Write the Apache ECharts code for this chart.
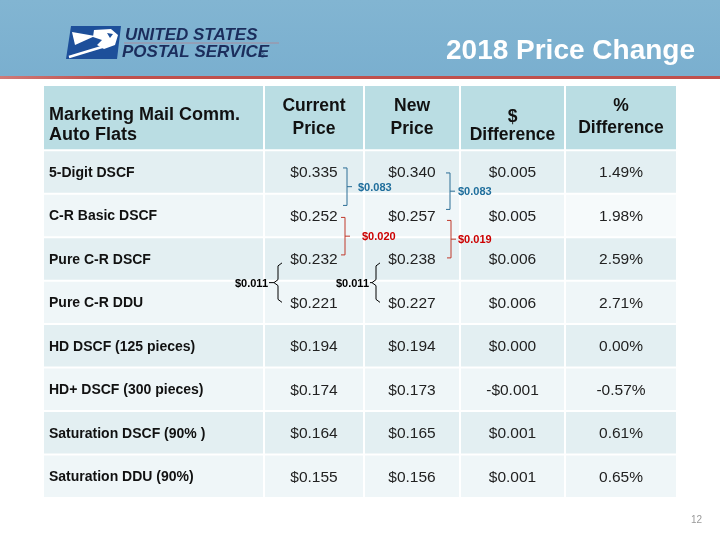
<!DOCTYPE html>
<html><head><meta charset="utf-8">
<script src="https://cdn.jsdelivr.net/npm/echarts@6/dist/echarts.min.js"></script>
<style>html,body{margin:0;padding:0;background:#fff}#c{width:720px;height:540px}</style>
</head><body><div id="c"></div>
<script>
// ---------- data ----------
const rowLabels = ['5-Digit DSCF', 'C-R Basic DSCF', 'Pure C-R DSCF', 'Pure C-R DDU',
  'HD DSCF (125 pieces)', 'HD+ DSCF (300 pieces)', 'Saturation DSCF (90% )', 'Saturation DDU (90%)'];
const currentPrice = [0.335, 0.252, 0.232, 0.221, 0.194, 0.174, 0.164, 0.155];
const newPrice = [0.340, 0.257, 0.238, 0.227, 0.194, 0.173, 0.165, 0.156];
const dollarDiff = [0.005, 0.005, 0.006, 0.006, 0.000, -0.001, 0.001, 0.001];
const pctDiff = [1.49, 1.98, 2.59, 2.71, 0.00, -0.57, 0.61, 0.65];
const headerLines = [['Marketing Mail Comm.', 'Auto Flats'], ['Current', 'Price'], ['New', 'Price'],
  ['$', 'Difference'], ['%', 'Difference']];
const bracketCol = [1, 2, 1, 2, 1, 2];
const bracketFrom = [0, 0, 1, 1, 2, 2];
const bracketValue = [0.083, 0.083, 0.020, 0.019, 0.011, 0.011];
const bracketKind = ['blue', 'blue', 'red', 'red', 'brace', 'brace'];
const titleText = '2018 Price Change';
const pageNumber = '12';

// ---------- layout / style ----------
const COL_EDGES = [0, 221, 321, 417, 522, 634];
const HEADER_LINE_Y = [[30, 50], [21, 44], [21, 44], [32, 50], [21, 43]];
const BRACKET_LAYOUT = [
  {dx: 33, top: -4, bottom: -10, labelDx: 11},
  {dx: 38, top: 1, bottom: -6, labelDx: 8},
  {dx: 31, top: 2, bottom: -4, labelDx: 17},
  {dx: 39, top: 5, bottom: -1, labelDx: 7},
  {dx: -36, top: 4, bottom: 0, labelDx: -10},
  {dx: -36, top: 4, bottom: 0, labelDx: -7}
];
const KIND_STYLE = {
  blue: {line: '#2c6e96', text: '#1f6e9c'},
  red: {line: '#c0392b', text: '#cc0000'},
  brace: {line: '#000000', text: '#000000'}
};
const FONT = '"Liberation Sans", Arial, sans-serif';
const HEADER_FILL = '#badde3', ROW_A = '#e3eff2', ROW_B = '#eff6f8';

const fmtDollar = v => (v < 0 ? '-$' : '$') + Math.abs(v).toFixed(3);
const fmtPct = v => v.toFixed(2) + '%';

function cellText(c, r) {
  if (c === 0) return rowLabels[r];
  if (c === 1) return fmtDollar(currentPrice[r]);
  if (c === 2) return fmtDollar(newPrice[r]);
  if (c === 3) return fmtDollar(dollarDiff[r]);
  return fmtPct(pctDiff[r]);
}

const cells = [];
for (let c = 0; c < 5; c++) cells.push([c, -1]);
for (let r = 0; r < rowLabels.length; r++) for (let c = 0; c < 5; c++) cells.push([c, r]);

function renderCell(params, api) {
  const c = api.value(0), r = api.value(1);
  const yTop = r < 0 ? -1.5 : r, yBot = r < 0 ? 0 : r + 1;
  const a = api.coord([COL_EDGES[c], yTop]);
  const b = api.coord([COL_EDGES[c + 1], yBot]);
  let fill = r < 0 ? HEADER_FILL : (r % 2 === 0 ? ROW_A : ROW_B);
  if (r === 1 && c === 4) fill = '#f6fafb';
  const children = [{
    type: 'rect',
    shape: {x: a[0] + 1, y: a[1] + 1, width: b[0] - a[0] - 2, height: b[1] - a[1] - 2},
    style: {fill: fill}
  }];
  const x = c === 0 ? a[0] + 6 : (a[0] + b[0]) / 2;
  const align = c === 0 ? 'left' : 'center';
  if (r < 0) {
    headerLines[c].forEach((t, i) => {
      children.push({type: 'text', style: {
        text: t, x: x, y: a[1] + HEADER_LINE_Y[c][i], align: align, verticalAlign: 'middle',
        fill: '#111', fontFamily: FONT, fontWeight: 'bold', fontSize: c === 0 ? 18 : 17.5
      }});
    });
  } else {
    children.push({type: 'text', style: {
      text: cellText(c, r), x: x, y: (a[1] + b[1]) / 2 + 1, align: align, verticalAlign: 'middle',
      fill: c === 0 ? '#111' : '#222', fontFamily: FONT,
      fontWeight: c === 0 ? 'bold' : 'normal', fontSize: c === 0 ? 14 : 15.5
    }});
  }
  return {type: 'group', children: children};
}

function renderBracket(params, api) {
  const i = params.dataIndex;
  const col = bracketCol[i], r = bracketFrom[i], L = BRACKET_LAYOUT[i];
  const st = KIND_STYLE[bracketKind[i]];
  const cx = (api.coord([COL_EDGES[col], 0])[0] + api.coord([COL_EDGES[col + 1], 0])[0]) / 2;
  const x = cx + L.dx;
  const c0 = api.coord([0, r + 0.5])[1], c1 = api.coord([0, r + 1.5])[1];
  const top = c0 + L.top, bot = c1 + L.bottom, mid = (top + bot) / 2;
  const children = [];
  let labelStyle;
  if (bracketKind[i] === 'brace') {
    children.push({type: 'polyline', shape: {points: [[x + 4, top], [x, top + 3], [x, mid - 3], [x - 4, mid], [x, mid + 3], [x, bot - 3], [x + 4, bot]]},
      style: {stroke: st.line, lineWidth: 1, fill: null}});
    children.push({type: 'line', shape: {x1: x - 4, y1: mid, x2: x + L.labelDx + 1, y2: mid}, style: {stroke: st.line, lineWidth: 1}});
    labelStyle = {x: x + L.labelDx, align: 'right'};
  } else {
    children.push({type: 'polyline', shape: {points: [[x - 4, top], [x, top], [x, bot], [x - 4, bot]]},
      style: {stroke: st.line, lineWidth: 1, fill: null}});
    children.push({type: 'line', shape: {x1: x, y1: mid, x2: x + 5, y2: mid}, style: {stroke: st.line, lineWidth: 1}});
    labelStyle = {x: x + L.labelDx, align: 'left'};
  }
  children.push({type: 'text', style: {
    text: fmtDollar(bracketValue[i]), x: labelStyle.x, y: mid + 1, align: labelStyle.align,
    verticalAlign: 'middle', fill: st.text, fontFamily: FONT, fontWeight: 'bold', fontSize: 11
  }});
  return {type: 'group', children: children};
}

const chart = echarts.init(document.getElementById('c'), null, {renderer: 'canvas'});
chart.setOption({
  animation: false,
  backgroundColor: '#ffffff',
  title: {
    text: titleText, right: 20, top: 32,
    textStyle: {color: '#ffffff', fontSize: 28, fontWeight: 'bold', fontFamily: FONT}
  },
  grid: {left: 43, top: 85, width: 634, height: 413},
  xAxis: {type: 'value', min: 0, max: 634, show: false},
  yAxis: {type: 'value', min: -1.5, max: 8, inverse: true, show: false},
  graphic: [
    {type: 'rect', z: -10, shape: {x: 0, y: 0, width: 720, height: 76},
      style: {fill: new echarts.graphic.LinearGradient(0, 0, 0, 1, [{offset: 0, color: '#82b5d2'}, {offset: 1, color: '#7aafcf'}])}},
    {type: 'rect', z: -8, shape: {x: 0, y: 76, width: 720, height: 3},
      style: {fill: new echarts.graphic.LinearGradient(0, 0, 1, 0, [{offset: 0, color: '#d07a78'}, {offset: 0.15, color: '#c0504d'}, {offset: 1, color: '#c0504d'}])}},
    // logo
    {type: 'polygon', shape: {points: [[71, 26], [121, 26], [117, 59], [66, 59]]}, style: {fill: '#1d4f9a'}},
    {type: 'polygon', shape: {points: [[72, 32], [95, 36], [75, 45]]}, style: {fill: '#ffffff'}},
    {type: 'polygon', shape: {points: [[94, 30], [111, 29], [118, 35], [115, 45], [104, 49], [97, 45], [102, 40], [93, 37]]}, style: {fill: '#ffffff'}},
    {type: 'polygon', shape: {points: [[107, 33], [113, 34], [110, 38]]}, style: {fill: '#1d4f9a'}},
    {type: 'polyline', shape: {points: [[69, 57], [92, 50], [112, 44]]}, style: {stroke: '#ffffff', lineWidth: 2.5, fill: null}},
    {type: 'line', shape: {x1: 124, y1: 43, x2: 279, y2: 43}, style: {stroke: '#a88c9c', lineWidth: 1}},
    {type: 'text', style: {text: 'UNITED STATES', x: 125, y: 35, verticalAlign: 'middle', fill: '#1b2d5c',
      fontFamily: '"Liberation Sans Narrow", "Liberation Sans", Arial, sans-serif', fontWeight: 'bold', fontStyle: 'italic', fontSize: 17}},
    {type: 'text', style: {text: 'POSTAL SERVICE', x: 122, y: 52, verticalAlign: 'middle', fill: '#1b2d5c',
      fontFamily: '"Liberation Sans Narrow", "Liberation Sans", Arial, sans-serif', fontWeight: 'bold', fontStyle: 'italic', fontSize: 17}},
    {type: 'text', style: {text: '®', x: 260, y: 56, verticalAlign: 'middle', fill: '#1b2d5c', fontFamily: FONT, fontSize: 7}},
    {type: 'text', style: {text: pageNumber, x: 702, y: 520, align: 'right', verticalAlign: 'middle', fill: '#9a9a9a', fontFamily: FONT, fontSize: 10}}
  ],
  series: [
    {type: 'custom', coordinateSystem: 'cartesian2d', data: cells, renderItem: renderCell, silent: true, z: 1},
    {type: 'custom', coordinateSystem: 'cartesian2d', data: bracketValue.map((v, i) => [i, 0]), renderItem: renderBracket, silent: true, z: 3}
  ]
});
</script></body></html>
